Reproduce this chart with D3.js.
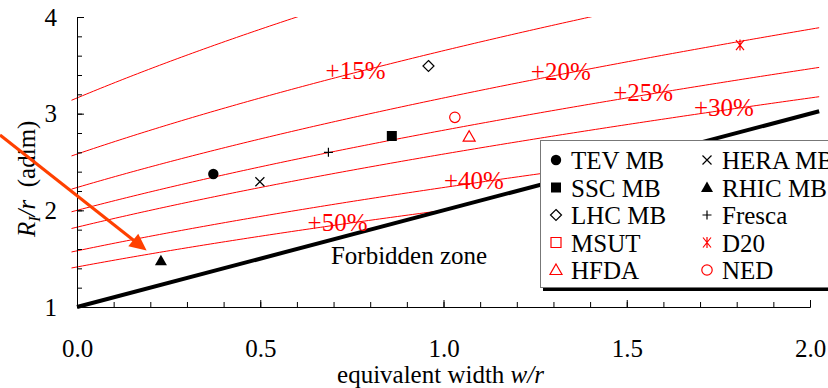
<!DOCTYPE html>
<html><head><meta charset="utf-8">
<script src="https://cdn.jsdelivr.net/npm/d3@7"></script>
<style>
html,body{margin:0;padding:0;background:#fff;}
svg{display:block;}
svg text{font-family:"Liberation Serif","Times New Roman",Times,serif;}
</style></head><body>
<svg id="chart" width="828" height="388"></svg>
<script>
// Iron share of the central field, drawn as iso-lines R/r = sqrt((1 + w/r) / share)
const ironShares = [0.10, 0.15, 0.20, 0.25, 0.30, 0.40, 0.50];
const shareLabels = ["+15%", "+20%", "+25%", "+30%", "+40%", "+50%"];
const shareLabelShares = [0.15, 0.20, 0.25, 0.30, 0.40, 0.50];
const shareLabelW = [0.76, 1.32, 1.545, 1.765, 1.083, 0.711];

// Magnets: equivalent width w/r and yoke radius R_I/r
const magnetNames = ["TEV MB", "SSC MB", "LHC MB", "MSUT", "HFDA", "HERA MB", "RHIC MB", "Fresca", "D20", "NED"];
const magnetSymbols = ["circle", "square", "diamond", "square", "triangle", "cross", "triangle", "plus", "asterisk", "circle"];
const magnetFilled = [true, true, false, false, false, false, true, false, false, false];
const magnetColors = ["#000", "#000", "#000", "#f00", "#f00", "#000", "#000", "#000", "#f00", "#f00"];
const magnetW = [0.372, 0.859, 0.959, null, 1.070, 0.499, 0.229, 0.686, 1.809, 1.031];
const magnetR = [2.376, 2.769, 3.493, null, 2.762, 2.296, 1.479, 2.600, 3.710, 2.962];

const xTicksMajor = [0, 0.5, 1.0, 1.5, 2.0];
const yTicksMajor = [1, 2, 3, 4];

const svg = d3.select("#chart");
const x = d3.scaleLinear().domain([0, 2]).range([77, 810]);
const y = d3.scaleLinear().domain([1, 4]).range([307, 17]);

const ironRadius = (w, share) => Math.sqrt((1 + w) / share);

// clip to the top of the plot
svg.append("defs").append("clipPath").attr("id", "plotClip")
  .append("rect").attr("x", 0).attr("y", y(4)).attr("width", 828).attr("height", 388);

const curves = svg.append("g").attr("clip-path", "url(#plotClip)");
const line = d3.line().x(d => x(d[0])).y(d => y(d[1]));

ironShares.forEach(s => {
  const wEnd = Math.min(2.025, 1 / s - 1, 16 * s - 1 + 0.02);
  const pts = d3.range(-0.015, wEnd, 0.01).concat([wEnd]).map(w => [w, ironRadius(w, s)]);
  curves.append("path").attr("d", line(pts))
    .attr("fill", "none").attr("stroke", "#ff0000").attr("stroke-width", 1);
});

// forbidden boundary: yoke radius equal to coil outer radius
svg.append("path").attr("d", line([[0, 1], [2.025, 3.025]]))
  .attr("fill", "none").attr("stroke", "#000").attr("stroke-width", 4);

// share labels
shareLabels.forEach((t, i) => {
  const w = shareLabelW[i];
  svg.append("text").attr("x", x(w)).attr("y", y(ironRadius(w, shareLabelShares[i])) + 6)
    .attr("text-anchor", "middle").attr("fill", "#ff0000").attr("font-size", 25).text(t);
});

svg.append("text").attr("x", x(0.906)).attr("y", y(1.445))
  .attr("text-anchor", "middle").attr("font-size", 25).attr("fill", "#000").text("Forbidden zone");

// axes
const axG = svg.append("g");
const yMinor = d3.axisLeft(y).tickValues(d3.range(1, 4.01, 0.2)).tickSizeInner(-5).tickSizeOuter(0).tickFormat("");
const yMajor = d3.axisLeft(y).tickValues(yTicksMajor).tickSizeInner(-7).tickSizeOuter(0).tickPadding(20).tickFormat(d3.format("d"));
const xMinor = d3.axisBottom(x).tickValues(d3.range(0, 2.01, 0.1)).tickSizeInner(-5).tickSizeOuter(0).tickFormat("");
const xMajor = d3.axisBottom(x).tickValues(xTicksMajor).tickSizeInner(-7).tickSizeOuter(0).tickPadding(32).tickFormat(d3.format(".1f"));

[[yMinor, "translate(77,0)"], [yMajor, "translate(77,0)"], [xMinor, "translate(0,307)"], [xMajor, "translate(0,307)"]].forEach(([a, tr]) => {
  const g = axG.append("g").attr("transform", tr).call(a);
  g.attr("font-family", null);
  g.selectAll("text").attr("font-size", 25).attr("fill", "#000");
  g.selectAll("line,path").attr("stroke", "#000").attr("stroke-width", 1);
});

// axis titles
const xt = svg.append("text").attr("x", x(1.0) - 3).attr("y", 383).attr("text-anchor", "middle").attr("font-size", 25);
xt.append("tspan").text("equivalent width ");
xt.append("tspan").attr("font-style", "italic").text("w/r");

const yt = svg.append("text").attr("transform", "translate(35,237) rotate(-90)").attr("font-size", 25);
yt.append("tspan").attr("font-style", "italic").text("R");
yt.append("tspan").attr("font-style", "italic").attr("font-size", 16).attr("dy", 5).text("I");
yt.append("tspan").attr("font-style", "italic").attr("dy", -5).text("/r");
yt.append("tspan").text("\u00a0 (adim)");

// marker shapes
function markerPath(type) {
  switch (type) {
    case "circle": return "M5.2,0A5.2,5.2 0 1 1 -5.2,0A5.2,5.2 0 1 1 5.2,0Z";
    case "square": return "M-5,-5H5V5H-5Z";
    case "diamond": return "M0,-5.5L5.5,0L0,5.5L-5.5,0Z";
    case "triangle": return "M0,-6L6,4.5H-6Z";
    case "cross": return "M-4.5,-4.5L4.5,4.5M-4.5,4.5L4.5,-4.5";
    case "plus": return "M-4.5,0H4.5M0,-4.5V4.5";
    case "asterisk": return "M-4,-5L4,5M-4,5L4,-5M0,-5.5V5.5";
  }
}
function drawMarker(g, i, cx, cy) {
  const filled = magnetFilled[i];
  g.append("path").attr("d", markerPath(magnetSymbols[i]))
    .attr("transform", `translate(${cx},${cy})`)
    .attr("fill", filled ? magnetColors[i] : "none")
    .attr("stroke", magnetColors[i]).attr("stroke-width", filled ? 0 : 1.2);
}

const marks = svg.append("g");
magnetNames.forEach((n, i) => {
  if (magnetW[i] == null) return;
  drawMarker(marks, i, x(magnetW[i]), y(magnetR[i]));
});

// annotation arrow
const arrowFrom = [-0.21, 2.779], arrowTo = [0.19, 1.584];
const ax0 = x(arrowFrom[0]), ay0 = y(arrowFrom[1]), ax1 = x(arrowTo[0]), ay1 = y(arrowTo[1]);
const ang = Math.atan2(ay1 - ay0, ax1 - ax0);
const headL = 17, headW = 8;
const bx = ax1 - headL * Math.cos(ang), by = ay1 - headL * Math.sin(ang);
svg.append("line").attr("x1", ax0).attr("y1", ay0).attr("x2", bx + 2 * Math.cos(ang)).attr("y2", by + 2 * Math.sin(ang))
  .attr("stroke", "#ff4000").attr("stroke-width", 3);
svg.append("path").attr("d", `M${ax1},${ay1}L${bx - headW * Math.sin(ang)},${by + headW * Math.cos(ang)}L${bx + headW * Math.sin(ang)},${by - headW * Math.cos(ang)}Z`)
  .attr("fill", "#ff4000");

// legend
const lg = svg.append("g");
lg.append("rect").attr("x", 543).attr("y", 144).attr("width", 320).attr("height", 147).attr("fill", "#000");
lg.append("rect").attr("x", 540.5).attr("y", 140.5).attr("width", 320).attr("height", 147)
  .attr("fill", "#fff").attr("stroke", "#777").attr("stroke-width", 1);
magnetNames.forEach((n, i) => {
  const col = Math.floor(i / 5), row = i % 5;
  const mx = col === 0 ? 556 : 707;
  const cy = 160 + row * 27.5;
  drawMarker(lg, i, mx, cy);
  lg.append("text").attr("x", mx + 15).attr("y", cy + 9).attr("font-size", 25).attr("fill", "#000").text(n);
});
</script>
</body></html>
